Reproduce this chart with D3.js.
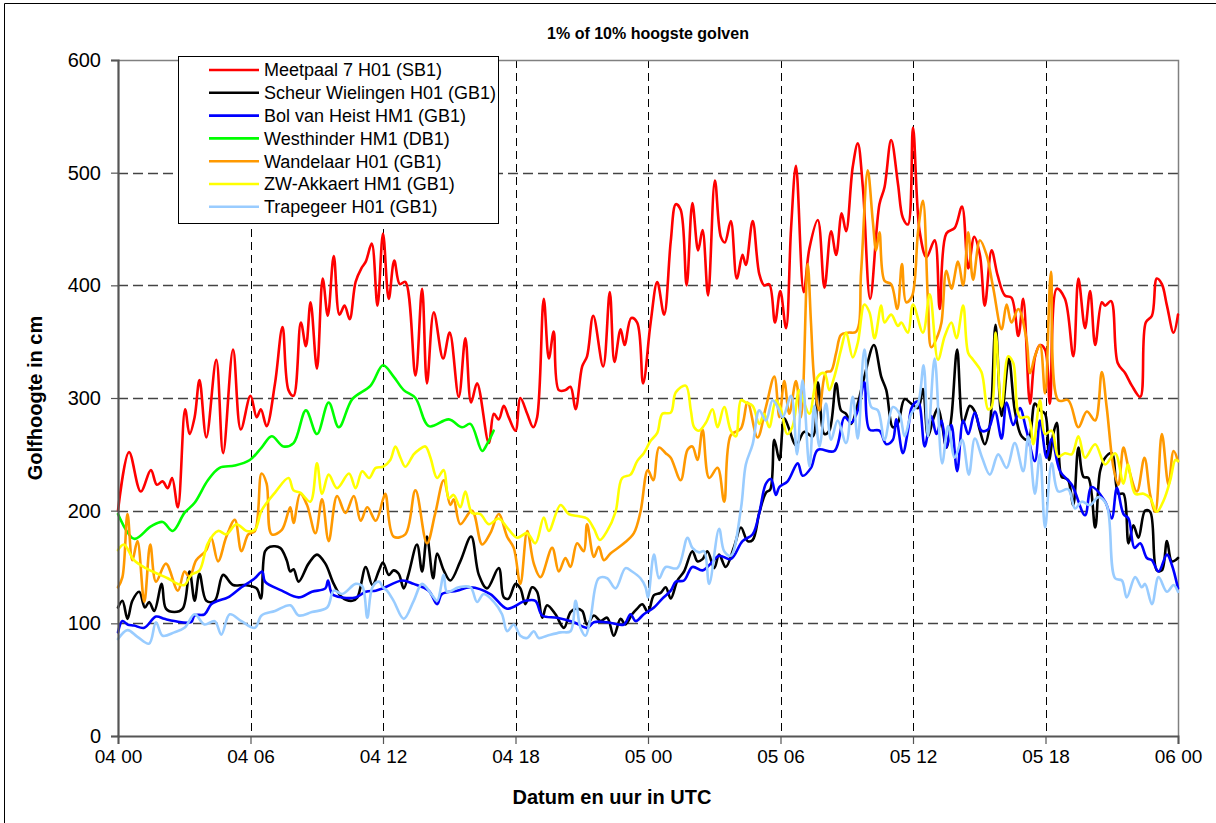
<!DOCTYPE html>
<html><head><meta charset="utf-8">
<script src="https://cdn.jsdelivr.net/npm/d3@7"></script>
<style>
body{margin:0;background:#fff}
svg{display:block}
text{font-family:"Liberation Sans",Arial,Helvetica,sans-serif;fill:#000}
</style>
</head><body>
<svg id="c" width="1216" height="823"></svg>
<script>
// ---------- data (hours since 04 00 UTC, height in cm) ----------
const chartTitle = "1% of 10% hoogste golven";
const xTitle = "Datum en uur in UTC";
const yTitle = "Golfhoogte in cm";
const xTickHours = [0, 6, 12, 18, 24, 30, 36, 42, 48];
const xTickLabels = ["04 00","04 06","04 12","04 18","05 00","05 06","05 12","05 18","06 00"];
const yTicks = [0, 100, 200, 300, 400, 500, 600];
const seriesNames = ["Meetpaal 7 H01 (SB1)","Scheur Wielingen H01 (GB1)","Bol van Heist HM1 (GB1)","Westhinder HM1 (DB1)","Wandelaar H01 (GB1)","ZW-Akkaert HM1 (GB1)","Trapegeer H01 (GB1)"];
const seriesColors = ["#FF0000","#000000","#0000FF","#00FF00","#FF9900","#FFFF00","#99CCFF"];

const meetpaal7 = [[0,200],[0.5,252],[1.03,217],[1.49,236],[1.76,223],[2.02,226],[2.25,220],[2.45,229],[2.71,203],[3.04,290],[3.24,268],[3.47,283],[3.69,316],[4.0,265],[4.45,334],[4.76,251],[5.21,343],[5.56,272],[6.0,302],[6.28,283],[6.47,290],[6.73,275],[7.11,313],[7.45,363],[7.72,307],[7.95,302],[8.28,367],[8.51,346],[8.72,385],[9.01,326],[9.27,406],[9.5,373],[9.77,426],[10.03,374],[10.26,382],[10.49,370],[10.76,403],[11.02,415],[11.22,421],[11.49,437],[11.75,382],[12.0,446],[12.26,388],[12.51,422],[12.76,401],[13.01,403],[13.47,320],[13.77,397],[13.99,313],[14.3,376],[14.72,335],[15.02,358],[15.43,301],[15.73,353],[15.99,296],[16.26,313],[16.79,260],[17.02,286],[17.24,281],[17.47,293],[17.69,283],[18.0,271],[18.22,300],[18.53,286],[18.8,274],[18.98,283],[19.28,388],[19.51,335],[19.73,359],[19.96,307],[20.26,307],[20.49,310],[20.72,290],[21.02,328],[21.24,337],[21.52,373],[21.97,328],[22.27,394],[22.48,332],[22.76,361],[22.94,347],[23.24,371],[23.51,367],[23.78,313],[24.12,367],[24.42,403],[24.73,374],[25.03,439],[25.26,472],[25.48,467],[25.75,400],[26.01,473],[26.27,431],[26.47,449],[26.72,391],[27.03,493],[27.3,443],[27.48,438],[27.75,457],[28.02,406],[28.28,427],[28.43,418],[28.74,457],[29.04,410],[29.26,400],[29.49,401],[29.75,367],[29.99,395],[30.25,362],[30.48,451],[30.7,506],[31.05,394],[31.31,433],[31.69,458],[31.99,398],[32.29,448],[32.52,427],[32.77,464],[32.97,448],[33.27,505],[33.5,526],[33.73,487],[34.06,388],[34.48,472],[34.71,487],[35.01,529],[35.32,490],[35.54,460],[35.77,454],[36.0,540],[36.3,448],[36.61,425],[36.98,440],[37.21,379],[37.51,446],[37.89,451],[38.22,470],[38.5,415],[38.77,443],[39.03,427],[39.25,382],[39.56,431],[39.83,409],[40.16,391],[40.46,389],[40.77,355],[40.99,388],[41.3,295],[41.53,337],[41.75,347],[41.98,343],[42.2,295],[42.51,397],[42.88,388],[43.26,337],[43.49,406],[43.79,362],[44.02,395],[44.25,347],[44.55,385],[44.7,382],[44.97,386],[45.27,331],[45.61,322],[45.91,311],[46.29,301],[46.54,367],[46.82,373],[47.04,406],[47.27,401],[47.5,382],[47.8,358],[48.0,374]];

const scheurWielingen = [[0,114],[0.2,120],[0.43,104],[0.65,120],[0.96,128],[1.22,114],[1.41,119],[1.64,111],[1.98,135],[2.17,113],[2.55,110],[2.93,113],[3.24,146],[3.47,120],[3.69,144],[4.0,120],[4.38,120],[4.76,143],[5.21,134],[5.74,134],[6.28,131],[6.47,122],[6.66,164],[6.88,168],[7.34,167],[7.64,156],[7.8,146],[7.95,148],[8.18,137],[8.63,153],[9.01,161],[9.39,153],[9.77,135],[10.15,123],[10.61,120],[10.84,123],[11.22,150],[11.52,134],[11.82,147],[12.0,154],[12.26,143],[12.48,147],[12.71,144],[12.94,131],[13.16,144],[13.54,170],[13.77,146],[13.99,177],[14.27,140],[14.45,162],[14.75,147],[15.05,138],[15.5,155],[15.99,177],[16.34,143],[16.71,131],[17.24,149],[17.47,123],[17.69,122],[18.0,135],[18.22,131],[18.45,117],[18.75,132],[18.98,128],[19.21,105],[19.43,116],[19.81,108],[20.19,96],[20.49,110],[20.72,113],[21.02,111],[21.24,99],[21.55,107],[21.85,102],[22.15,105],[22.45,89],[22.76,104],[22.98,99],[23.28,108],[23.51,113],[23.74,117],[24.0,110],[24.27,125],[24.57,127],[24.8,132],[25.03,122],[25.33,138],[25.63,146],[26.01,164],[26.24,155],[26.47,157],[26.69,164],[27.0,149],[27.22,161],[27.52,150],[27.9,168],[28.21,185],[28.51,173],[28.74,174],[29.04,198],[29.34,216],[29.54,219],[29.72,263],[29.95,245],[30.17,282],[30.4,272],[30.7,258],[31.08,270],[31.46,266],[31.69,314],[31.99,268],[32.21,271],[32.52,313],[32.74,289],[32.97,286],[33.2,277],[33.5,295],[33.8,319],[34.23,347],[34.56,319],[34.79,307],[35.09,274],[35.32,278],[35.62,299],[35.92,295],[36.23,291],[36.45,308],[36.68,266],[36.91,281],[37.13,291],[37.32,276],[37.51,256],[37.74,283],[38.0,343],[38.27,278],[38.57,293],[38.8,288],[39.03,271],[39.25,259],[39.48,276],[39.74,365],[40.01,284],[40.34,335],[40.61,289],[40.92,266],[41.22,263],[41.52,295],[41.75,289],[41.98,286],[42.16,245],[42.35,268],[42.51,278],[42.73,230],[42.88,229],[43.03,227],[43.26,205],[43.49,256],[43.72,230],[43.94,229],[44.25,185],[44.47,235],[44.7,247],[45.0,251],[45.3,215],[45.53,215],[45.76,171],[45.98,187],[46.21,176],[46.51,200],[46.74,199],[47.04,147],[47.27,147],[47.5,173],[47.72,155],[48.0,158]];

const bolVanHeist = [[0,92],[0.2,102],[0.43,99],[0.73,98],[1.19,96],[1.72,106],[2.1,104],[2.55,102],[3.31,101],[3.47,107],[3.92,108],[4.22,117],[4.53,120],[4.98,123],[5.59,132],[6.2,140],[6.53,146],[6.66,137],[7.42,129],[8.18,123],[8.78,128],[9.39,131],[9.51,138],[9.7,126],[10.15,123],[10.76,123],[11.22,128],[11.67,129],[12.0,131],[12.86,138],[13.39,135],[14.07,129],[14.45,117],[14.67,126],[15.35,129],[15.96,132],[16.86,126],[17.62,113],[18.45,120],[18.9,120],[19.21,107],[19.89,105],[20.64,101],[21.24,96],[21.55,101],[22.15,101],[22.91,99],[23.21,108],[23.44,102],[23.81,108],[24.27,114],[24.65,122],[25.03,129],[25.26,137],[25.63,138],[26.01,150],[26.47,147],[26.84,153],[27.22,160],[27.75,157],[28.28,173],[28.74,179],[29.04,198],[29.34,224],[29.57,228],[29.79,214],[29.95,221],[30.32,226],[30.78,242],[31.0,231],[31.38,238],[31.69,254],[32.44,253],[32.9,283],[33.2,278],[33.5,289],[33.8,314],[34.03,272],[34.48,271],[34.79,259],[35.09,263],[35.24,281],[35.54,251],[35.77,271],[35.95,292],[36.23,297],[36.53,257],[36.83,284],[37.06,268],[37.29,280],[37.51,256],[37.74,276],[38.0,235],[38.27,280],[38.5,268],[38.8,287],[39.1,271],[39.4,272],[39.71,288],[40.01,264],[40.24,296],[40.54,276],[40.84,291],[41.14,271],[41.52,244],[41.75,280],[42.05,247],[42.28,264],[42.66,235],[43.19,223],[43.79,196],[44.09,221],[44.7,208],[45.0,193],[45.23,220],[45.53,197],[45.76,193],[46.03,167],[46.29,171],[46.59,158],[46.82,156],[47.12,146],[47.5,161],[47.72,152],[48.0,131]];

const westhinder = [[0,197],[0.73,175],[1.49,186],[2.02,190],[2.48,182],[3.01,198],[3.47,207],[4.07,227],[4.6,238],[5.29,240],[5.97,245],[6.5,256],[6.96,266],[7.49,257],[7.95,260],[8.51,289],[9.01,268],[9.54,296],[10.0,274],[10.61,299],[11.44,311],[12.0,329],[12.48,319],[12.94,307],[13.47,300],[14.08,275],[14.98,281],[15.58,274],[15.96,277],[16.49,253],[16.71,259],[17.01,271]];

const wandelaar = [[0,132],[0.2,141],[0.43,197],[0.65,156],[0.88,173],[1.19,119],[1.46,170],[1.72,137],[2.17,153],[2.71,129],[3.01,146],[3.24,141],[3.54,156],[4.0,165],[4.22,176],[4.53,155],[4.91,177],[5.29,192],[5.59,164],[5.9,179],[6.2,182],[6.5,233],[6.73,224],[6.96,179],[7.42,183],[7.8,203],[7.95,189],[8.25,215],[8.56,205],[8.94,180],[9.24,210],[9.54,173],[9.92,213],[10.3,198],[10.68,213],[10.99,191],[11.29,203],[11.67,191],[12.0,210],[12.11,215],[12.48,177],[13.01,179],[13.47,218],[13.99,171],[14.37,198],[14.75,227],[15.05,205],[15.2,210],[15.5,188],[16.03,200],[16.49,170],[16.86,180],[17.24,197],[17.62,177],[17.92,167],[18.22,135],[18.53,182],[18.83,153],[19.13,141],[19.66,167],[19.96,146],[20.26,158],[20.49,150],[20.79,171],[21.09,164],[21.24,188],[21.55,159],[21.77,168],[22.0,156],[22.3,162],[22.91,171],[23.36,180],[23.66,199],[23.99,236],[24.24,227],[24.5,256],[24.8,251],[25.03,247],[25.48,227],[25.79,254],[26.01,257],[26.24,245],[26.47,272],[26.77,229],[27.15,238],[27.45,208],[27.75,267],[28.21,273],[28.51,296],[28.96,265],[29.34,292],[29.72,319],[29.95,283],[30.17,315],[30.4,286],[30.7,315],[30.93,283],[31.23,419],[31.38,367],[31.53,316],[31.76,289],[32.06,323],[32.29,324],[32.52,340],[32.74,356],[33.05,358],[33.43,359],[33.65,412],[33.95,502],[34.18,457],[34.33,431],[34.48,447],[34.71,404],[35.01,401],[35.29,379],[35.5,419],[35.69,385],[35.95,390],[36.23,448],[36.45,475],[36.68,385],[36.83,345],[37.13,356],[37.29,367],[37.51,413],[37.74,397],[38.04,421],[38.27,400],[38.5,447],[38.72,405],[39.03,440],[39.33,427],[39.63,398],[40.01,361],[40.24,383],[40.46,367],[40.77,379],[41.14,352],[41.3,322],[41.52,337],[41.75,347],[41.98,304],[42.25,412],[42.58,298],[43.03,298],[43.49,274],[43.87,288],[44.25,280],[44.55,323],[44.77,292],[45.08,238],[45.3,223],[45.53,256],[45.76,238],[46.14,217],[46.48,247],[46.74,214],[46.97,199],[47.27,268],[47.57,223],[47.8,253],[48.0,244]];

const zwAkkaert = [[0,165],[0.27,170],[0.73,156],[1.26,149],[1.79,144],[2.25,140],[2.71,135],[3.01,134],[3.31,143],[3.69,147],[4.07,171],[4.53,182],[4.91,179],[5.36,188],[5.82,182],[6.2,183],[6.5,200],[7.11,216],[7.72,229],[7.95,218],[8.25,216],[8.71,208],[9.01,242],[9.24,215],[9.54,232],[9.92,220],[10.46,233],[10.76,220],[11.06,235],[11.37,229],[11.67,238],[12.0,239],[12.33,245],[12.56,257],[12.79,247],[13.01,239],[13.39,250],[13.62,254],[13.92,257],[14.15,247],[14.45,229],[14.75,236],[14.98,211],[15.2,214],[15.5,203],[15.73,217],[16.03,198],[16.41,197],[16.79,188],[17.24,193],[17.62,185],[18.07,176],[18.53,180],[18.9,171],[19.28,194],[19.51,182],[20.04,205],[20.41,197],[20.87,195],[21.24,193],[21.55,184],[21.82,174],[22.15,182],[22.53,199],[22.83,229],[23.21,232],[23.51,244],[23.81,251],[24.12,262],[24.42,269],[24.65,286],[25.03,287],[25.26,305],[25.71,311],[25.94,289],[26.09,274],[26.31,271],[26.62,278],[26.92,290],[27.15,274],[27.45,292],[27.75,271],[27.98,266],[28.21,298],[28.43,296],[28.74,293],[29.04,277],[29.26,286],[29.49,274],[29.79,298],[30.02,290],[30.3,268],[30.55,275],[30.85,307],[31.08,295],[31.31,286],[31.69,319],[31.99,322],[32.21,307],[32.44,319],[32.74,343],[32.97,358],[33.27,336],[33.5,349],[33.8,383],[34.03,376],[34.26,353],[34.56,382],[34.71,367],[35.01,374],[35.32,364],[35.47,367],[35.77,358],[36.0,383],[36.45,358],[36.76,392],[37.13,334],[37.44,355],[37.74,367],[37.97,353],[38.27,382],[38.5,340],[38.72,334],[39.1,323],[39.4,290],[39.56,292],[39.74,358],[40.01,292],[40.31,337],[40.54,331],[40.84,283],[41.22,283],[41.45,259],[41.75,298],[41.98,268],[42.28,271],[42.58,248],[42.88,251],[43.19,250],[43.49,266],[43.79,247],[44.25,259],[44.7,241],[45.15,251],[45.53,224],[45.73,241],[46.06,215],[46.44,215],[46.74,211],[47.04,199],[47.35,209],[47.65,227],[47.88,245],[48.0,244]];

const trapegeer = [[0,86],[0.43,94],[0.88,88],[1.41,82],[1.72,101],[2.02,89],[2.55,92],[3.01,96],[3.47,108],[3.92,99],[4.38,102],[4.68,90],[5.06,108],[5.59,102],[6.2,96],[6.5,107],[7.11,111],[7.8,116],[8.18,107],[8.78,110],[9.47,114],[9.77,129],[10.15,126],[10.76,135],[11.06,133],[11.29,105],[11.52,132],[11.82,137],[12.0,132],[12.18,129],[12.48,120],[12.94,104],[13.39,120],[13.77,135],[14.22,125],[14.45,120],[14.75,143],[14.9,128],[15.43,132],[15.96,132],[16.26,119],[16.56,126],[17.02,119],[17.39,108],[17.62,93],[17.92,99],[18.22,89],[18.53,87],[18.83,93],[19.05,87],[19.43,89],[20.04,92],[20.49,93],[20.72,120],[20.94,96],[21.17,89],[21.4,105],[21.77,140],[22.15,140],[22.53,131],[22.98,149],[23.28,146],[23.66,140],[23.89,132],[24.0,123],[24.27,161],[24.5,140],[24.8,150],[25.33,149],[25.79,176],[26.01,167],[26.31,163],[26.54,164],[26.77,135],[27.22,184],[27.45,164],[27.75,160],[28.21,202],[28.43,241],[28.74,259],[29.04,289],[29.34,280],[29.64,298],[29.87,292],[30.1,283],[30.48,302],[30.75,250],[31.0,316],[31.31,239],[31.53,293],[31.76,257],[32.06,295],[32.29,263],[32.59,280],[32.97,260],[33.27,301],[33.5,264],[33.8,343],[34.11,292],[34.41,289],[34.71,263],[35.09,292],[35.39,286],[35.62,266],[35.92,286],[36.23,295],[36.48,329],[36.68,266],[36.98,335],[37.32,242],[37.59,275],[37.89,247],[38.22,263],[38.53,232],[38.8,264],[39.13,247],[39.48,232],[39.86,250],[40.24,238],[40.61,260],[40.99,235],[41.22,266],[41.52,215],[41.75,250],[41.98,185],[42.28,242],[42.58,217],[43.03,219],[43.34,202],[43.64,208],[44.02,205],[44.4,212],[44.77,205],[45.15,140],[45.46,138],[45.68,123],[46.06,141],[46.36,132],[46.51,135],[46.82,117],[47.12,141],[47.5,128],[47.8,134],[48.0,128]];

const seriesData = [meetpaal7, scheurWielingen, bolVanHeist, westhinder, wandelaar, zwAkkaert, trapegeer];

// ---------- drawing ----------
const W = 1216, H = 823;
const P = {left:118, right:1178, top:60, bottom:736};
const svg = d3.select("#c");

const x = d3.scaleLinear().domain([0,48]).range([P.left, P.right]);
const y = d3.scaleLinear().domain([0,600]).range([P.bottom, P.top]);

// chart area border
svg.append("path")
  .attr("d", `M4.5,${H+5} V3.5 H${W+5}`)
  .attr("fill","none").attr("stroke","#000").attr("stroke-width",1);

// gridlines
const grid = svg.append("g");
grid.selectAll("line.h").data(yTicks.filter(d => d > 0 && d < 600)).join("line")
  .attr("x1", P.left).attr("x2", P.right)
  .attr("y1", d => Math.round(y(d)) + 0.5).attr("y2", d => Math.round(y(d)) + 0.5)
  .attr("stroke","#444").attr("stroke-width",1.3).attr("stroke-dasharray","10,5");
grid.selectAll("line.v").data(xTickHours.filter(d => d > 0 && d < 48)).join("line")
  .attr("x1", d => Math.round(x(d)) + 0.5).attr("x2", d => Math.round(x(d)) + 0.5)
  .attr("y1", P.top).attr("y2", P.bottom)
  .attr("stroke","#000").attr("stroke-width",1).attr("stroke-dasharray","8,5");

// plot border (top & right)
svg.append("path")
  .attr("d", `M${P.left},${P.top+0.5} H${P.right+0.5} V${P.bottom}`)
  .attr("fill","none").attr("stroke","#808080").attr("stroke-width",1.5);

// series
const line = d3.line().x(d => x(d[0])).y(d => y(d[1])).curve(d3.curveCatmullRom.alpha(0.5));
const gS = svg.append("g");
seriesData.forEach((s, i) => {
  gS.append("path").datum(s).attr("d", line)
    .attr("fill","none").attr("stroke", seriesColors[i])
    .attr("stroke-width", 2.6).attr("stroke-linejoin","round").attr("stroke-linecap","round");
});

// axes
const yAxis = d3.axisLeft(y).tickValues(yTicks).tickSize(7).tickPadding(10).tickFormat(d3.format("d"));
const gy = svg.append("g").attr("transform", `translate(${P.left},0)`).call(yAxis);
gy.select(".domain").attr("stroke","#555").attr("stroke-width",2.2);
gy.selectAll(".tick line").attr("stroke","#555").attr("stroke-width",1.2);
gy.selectAll(".tick text").attr("font-size", 20).attr("fill","#000")
  .attr("font-family",'"Liberation Sans",Arial,sans-serif');

const xAxis = d3.axisBottom(x).tickValues(xTickHours).tickSize(8).tickPadding(6)
  .tickFormat((d, i) => xTickLabels[i]);
const gx = svg.append("g").attr("transform", `translate(0,${P.bottom})`).call(xAxis);
gx.select(".domain").attr("stroke","#555").attr("stroke-width",2);
gx.selectAll(".tick line").attr("stroke","#555").attr("stroke-width",1.2);
gx.selectAll(".tick text").attr("font-size", 19).attr("fill","#000")
  .attr("font-family",'"Liberation Sans",Arial,sans-serif');

// titles
svg.append("text").attr("x", 648).attr("y", 39).attr("text-anchor","middle")
  .attr("font-size", 16).attr("font-weight","bold").text(chartTitle);
svg.append("text").attr("x", 612).attr("y", 804).attr("text-anchor","middle")
  .attr("font-size", 20).attr("font-weight","bold").text(xTitle);
svg.append("text").attr("transform", `translate(42,${(P.top+P.bottom)/2}) rotate(-90)`)
  .attr("text-anchor","middle").attr("font-size", 20).attr("font-weight","bold").text(yTitle);

// legend
const lg = svg.append("g");
lg.append("rect").attr("x",178.5).attr("y",56.5).attr("width",320).attr("height",167)
  .attr("fill","#fff").attr("stroke","#000").attr("stroke-width",1);
seriesNames.forEach((n, i) => {
  const yy = 70 + i * 22.8;
  lg.append("line").attr("x1",209).attr("x2",259).attr("y1",yy).attr("y2",yy)
    .attr("stroke", seriesColors[i]).attr("stroke-width",2.6);
  lg.append("text").attr("x",264).attr("y",yy).attr("dy","0.36em")
    .attr("font-size",18).text(n);
});
</script>
</body></html>
